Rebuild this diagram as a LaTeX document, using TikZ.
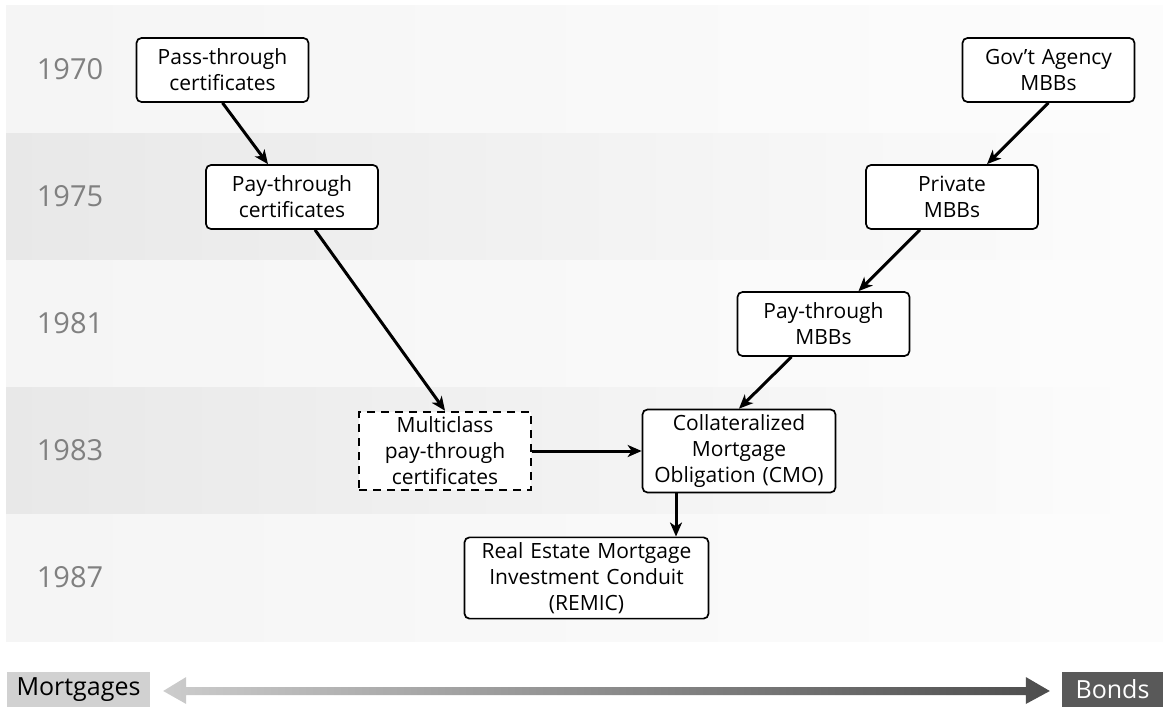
\documentclass[tikz,border=0pt]{standalone}
\usepackage{fontspec}
\setmainfont{Open Sans}
\usetikzlibrary{shapes,arrows.meta,calc}
\tikzstyle{block} = [rectangle, draw, fill=white, rounded corners=5pt, line width=1.7pt,
    inner sep=5pt, text width=162pt, text centered, minimum height=64pt,
    font=\fontsize{21}{26}\selectfont]
\tikzstyle{dashblock} = [block, rounded corners=0pt, line width=2.4pt, dash pattern=on 8pt off 6pt]
\tikzstyle{line} = [draw, line width=3pt, -{Stealth[length=14pt, width=12pt, inset=4pt]}]
\tikzstyle{year} = [text=black!50, font=\fontsize{29}{32}\selectfont]
\tikzstyle{endlabel} = [rectangle, inner sep=0pt, minimum height=35pt, font=\fontsize{25}{28}\selectfont]

\begin{document}
\begin{tikzpicture}[x=1pt, y=-1pt, node distance=127pt]
    \useasboundingbox (0,0) rectangle (1163,707);

    % Background bands
    \foreach \top/\dark in {5/4, 133/9, 260/4, 387/9, 514/4}
        \shade[left color=black!\dark, right color=black!1] (6,\top) rectangle (1163,\top+127);
    \foreach \yr/\ypos in {1970/69, 1975/196.5, 1981/323.5, 1983/450.5, 1987/577.5}
        \node [year] (y\yr) at (70,\ypos) {\yr};

    % Place nodes
    \node [block] (passthru) at (222.5,70) {Pass-through\\ certificates};
    \node [block, below of=passthru, xshift=69.5pt] (paythru) {Pay-through\\ certificates};
    \node [dashblock, below of=paythru, node distance=254pt, xshift=153pt] (multiclass) {Multiclass\\ pay-through\\ certificates};

    \node [block] (agency) at (1048.5,70) {Gov’t Agency\\ MBBs};
    \node [block, below of=agency, xshift=-96.5pt] (private) {Private\\ MBBs};
    \node [block, below of=private, xshift=-128.5pt] (paymbb) {Pay-through\\ MBBs};
    \node [block, below of=paymbb, xshift=-84.5pt, text width=183pt] (cmo) {Collateralized\\ Mortgage\\ Obligation (CMO)};
    \node [block, below of=cmo, xshift=-152.5pt, text width=234pt] (remic) {Real Estate Mortgage\\ Investment Conduit\\ (REMIC)};

    % Draw edges
    \path [line] (passthru.south) -- ([xshift=-24pt]paythru.north);
    \path [line] ([xshift=23pt]paythru.south) -- (multiclass.north);
    \path [line] (agency.south) -- ([xshift=35pt]private.north);
    \path [line] ([xshift=-32pt]private.south) -- ([xshift=35pt]paymbb.north);
    \path [line] ([xshift=-32pt]paymbb.south) -- (cmo.north);
    \path [line] (multiclass.east) -- (cmo.west);
    \path [line] ([xshift=-63pt]cmo.south) -- ([xshift=-63pt]cmo.south |- remic.north);

    % Mortgages to bonds scale
    \node [endlabel, fill=black!18, minimum width=143pt] (mortgages) at (78.5,689.5) {Mortgages};
    \node [endlabel, fill=black!65, text=white, minimum width=101pt] (bonds) at (1112.5,689.5) {Bonds};
    \coordinate (lefttip) at ($(mortgages.east)+(13,1.5)$);
    \coordinate (righttip) at ($(bonds.west)+(-12,1.5)$);
    \shade [left color=black!20, right color=black!70]
        (lefttip) -- ++(23,-14) -- ++(0,10) -- ($(righttip)+(-24,-4)$) -- ++(0,-10)
        -- (righttip) -- ++(-24,13) -- ++(0,-9) -- ($(lefttip)+(23,4)$) -- ++(0,9) -- cycle;
\end{tikzpicture}
\end{document}
